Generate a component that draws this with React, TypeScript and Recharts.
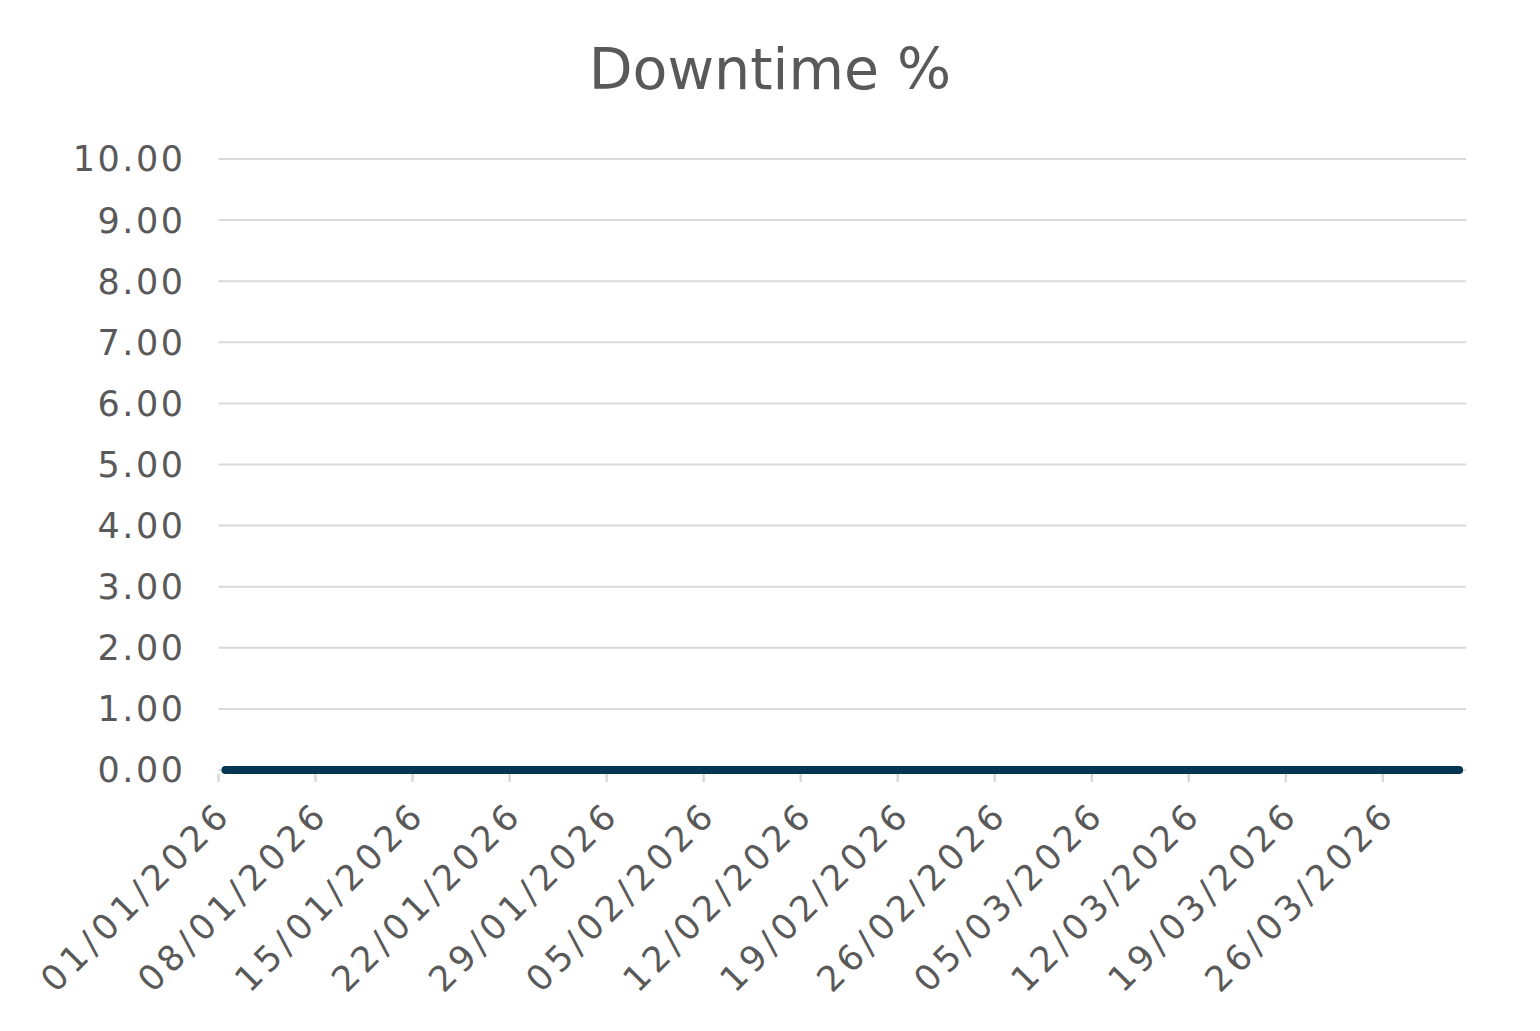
import { LineChart, Line, XAxis, YAxis, CartesianGrid } from "recharts";

// daily points, 01/01/2026 .. 31/03/2026
const dates = [
  "01/01/2026", "02/01/2026", "03/01/2026", "04/01/2026", "05/01/2026", "06/01/2026", "07/01/2026",
  "08/01/2026", "09/01/2026", "10/01/2026", "11/01/2026", "12/01/2026", "13/01/2026", "14/01/2026",
  "15/01/2026", "16/01/2026", "17/01/2026", "18/01/2026", "19/01/2026", "20/01/2026", "21/01/2026",
  "22/01/2026", "23/01/2026", "24/01/2026", "25/01/2026", "26/01/2026", "27/01/2026", "28/01/2026",
  "29/01/2026", "30/01/2026", "31/01/2026", "01/02/2026", "02/02/2026", "03/02/2026", "04/02/2026",
  "05/02/2026", "06/02/2026", "07/02/2026", "08/02/2026", "09/02/2026", "10/02/2026", "11/02/2026",
  "12/02/2026", "13/02/2026", "14/02/2026", "15/02/2026", "16/02/2026", "17/02/2026", "18/02/2026",
  "19/02/2026", "20/02/2026", "21/02/2026", "22/02/2026", "23/02/2026", "24/02/2026", "25/02/2026",
  "26/02/2026", "27/02/2026", "28/02/2026", "01/03/2026", "02/03/2026", "03/03/2026", "04/03/2026",
  "05/03/2026", "06/03/2026", "07/03/2026", "08/03/2026", "09/03/2026", "10/03/2026", "11/03/2026",
  "12/03/2026", "13/03/2026", "14/03/2026", "15/03/2026", "16/03/2026", "17/03/2026", "18/03/2026",
  "19/03/2026", "20/03/2026", "21/03/2026", "22/03/2026", "23/03/2026", "24/03/2026", "25/03/2026",
  "26/03/2026", "27/03/2026", "28/03/2026", "29/03/2026", "30/03/2026", "31/03/2026",
];

const downtime = [
  0, 0, 0, 0, 0, 0, 0,
  0, 0, 0, 0, 0, 0, 0,
  0, 0, 0, 0, 0, 0, 0,
  0, 0, 0, 0, 0, 0, 0,
  0, 0, 0, 0, 0, 0, 0,
  0, 0, 0, 0, 0, 0, 0,
  0, 0, 0, 0, 0, 0, 0,
  0, 0, 0, 0, 0, 0, 0,
  0, 0, 0, 0, 0, 0, 0,
  0, 0, 0, 0, 0, 0, 0,
  0, 0, 0, 0, 0, 0, 0,
  0, 0, 0, 0, 0, 0, 0,
  0, 0, 0, 0, 0, 0,
];

const tickLabels = [
  "01/01/2026", "08/01/2026", "15/01/2026", "22/01/2026", "29/01/2026",
  "05/02/2026", "12/02/2026", "19/02/2026", "26/02/2026",
  "05/03/2026", "12/03/2026", "19/03/2026", "26/03/2026",
];

const yTicks = [0, 1, 2, 3, 4, 5, 6, 7, 8, 9, 10];

const data = dates.map((d, i) => ({ date: d, downtime: downtime[i] }));
const tickDays = tickLabels.map((l) => dates.indexOf(l));

const FONT = "'DejaVu Sans', sans-serif";
const TEXT = "#595959";
const GRID = "#d9d9d9";

// tick mark drawn here so it sits below the (axis-covered) series line
function XTick(props: any) {
  const { x, y, payload } = props;
  const label = tickLabels[tickDays.indexOf(payload.value)] ?? "";
  return (
    <g>
      <line x1={x} x2={x} y1={y - 8} y2={y} stroke={GRID} strokeWidth={2.5} />
      <g transform={`translate(${x + 15},${y + 34})`}>
        <text
          textAnchor="end"
          transform="rotate(-45)"
          fill={TEXT}
          fontSize={35}
          fontFamily={FONT}
          style={{ letterSpacing: "5px" }}
        >
          {label}
        </text>
      </g>
    </g>
  );
}

function YTick(props: any) {
  const { x, y, payload } = props;
  return (
    <text
      x={x}
      y={y}
      dy="0.355em"
      textAnchor="end"
      fill={TEXT}
      fontSize={35}
      fontFamily={FONT}
      style={{ letterSpacing: "2.5px" }}
    >
      {Number(payload.value).toFixed(2)}
    </text>
  );
}

export default function App() {
  return (
    <div style={{ position: "relative", width: 1524, height: 1015, background: "#fff" }}>
      <div
        style={{
          position: "absolute",
          top: 32,
          left: 0,
          width: 1524,
          textAlign: "center",
          fontFamily: FONT,
          fontSize: 57,
          lineHeight: "58px",
          color: TEXT,
        }}
      >
        Downtime %
      </div>
      <LineChart
        width={1524}
        height={1015}
        data={data}
        margin={{ top: 151, right: 66, bottom: 13, left: 0 }}
      >
        <CartesianGrid
          xAxisId="weeks"
          vertical={false}
          stroke={GRID}
          strokeWidth={2}
        />
        <XAxis xAxisId="days" dataKey="date" scale="band" orientation="top" height={0} hide />
        <XAxis
          xAxisId="weeks"
          type="number"
          dataKey={(d: any) => dates.indexOf(d.date)}
          domain={[0, dates.length]}
          allowDataOverflow
          ticks={tickDays}
          interval={0}
          height={240}
          tickSize={12}
          tickMargin={0}
          axisLine={false}
          tickLine={false}
          tick={<XTick />}
        />
        <YAxis
          domain={[0, 10]}
          ticks={yTicks}
          interval={0}
          width={210.5}
          axisLine={false}
          tickLine={false}
          tickSize={0}
          tickMargin={33}
          tick={<YTick />}
        />
        <Line
          xAxisId="days"
          type="linear"
          dataKey="downtime"
          stroke="#033652"
          strokeWidth={8}
          strokeLinecap="round"
          dot={false}
          activeDot={false}
          isAnimationActive={false}
        />
      </LineChart>
    </div>
  );
}
